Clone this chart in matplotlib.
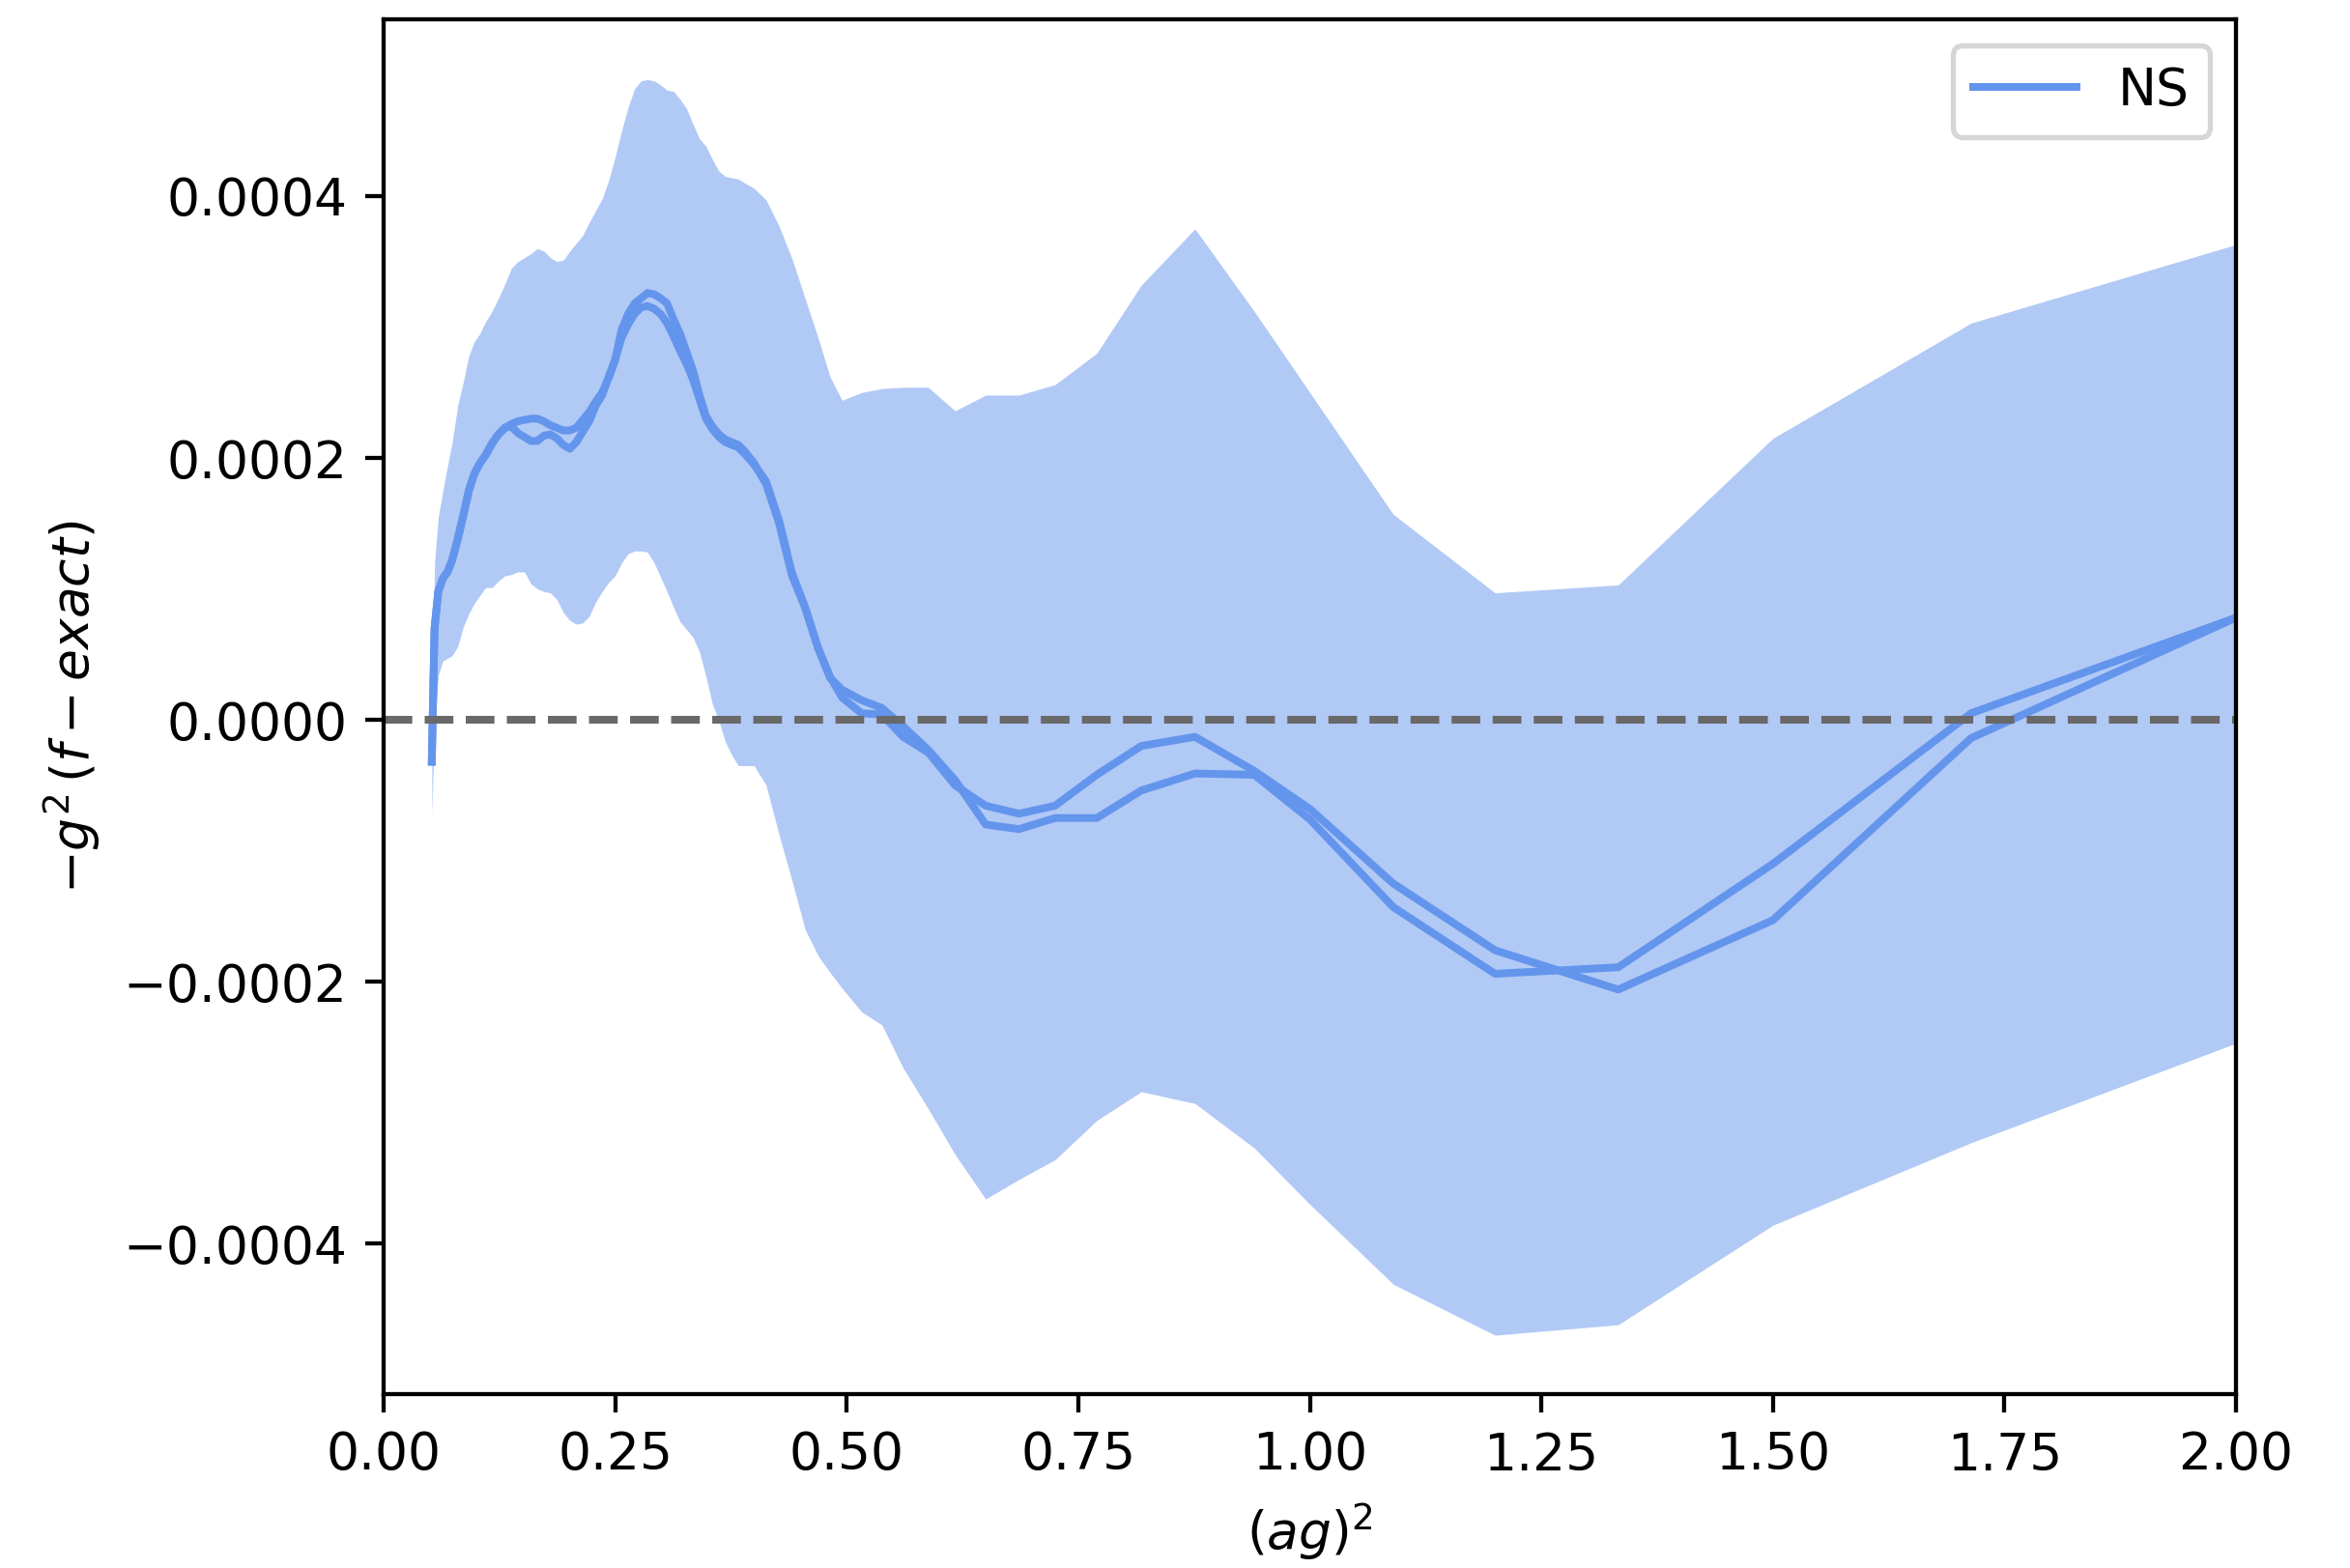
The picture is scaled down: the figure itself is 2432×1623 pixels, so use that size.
import matplotlib
matplotlib.use("Agg")
import matplotlib.pyplot as plt
import numpy as np

# (ag)^2 sample points
x = [0.052, 0.055, 0.059, 0.064, 0.069, 0.074, 0.080, 0.086, 0.092, 0.098,
     0.104, 0.110, 0.117, 0.124, 0.131, 0.138, 0.145, 0.152, 0.159, 0.166,
     0.173, 0.180, 0.187, 0.194, 0.201, 0.208, 0.215, 0.222, 0.229, 0.236,
     0.243, 0.250, 0.257, 0.264, 0.271, 0.278, 0.285, 0.292, 0.299, 0.306,
     0.313, 0.320, 0.327, 0.334, 0.341, 0.348, 0.355, 0.362, 0.369, 0.376,
     0.383, 0.390, 0.400, 0.413, 0.427, 0.441, 0.455, 0.469, 0.482, 0.495,
     0.516, 0.538, 0.561, 0.588, 0.617, 0.650, 0.686, 0.725, 0.770, 0.818,
     0.876, 0.940, 1.000, 1.090, 1.200, 1.333, 1.500, 1.714, 2.000]

# values in units of 1e-4
ns_run1 = [-0.32, 0.70, 0.98, 1.08, 1.13, 1.22, 1.38, 1.56, 1.75, 1.88,
           1.96, 2.02, 2.11, 2.18, 2.23, 2.26, 2.28, 2.29, 2.30, 2.30,
           2.28, 2.25, 2.23, 2.21, 2.21, 2.23, 2.29, 2.35, 2.43, 2.50,
           2.61, 2.75, 2.98, 3.10, 3.18, 3.22, 3.26, 3.25, 3.22, 3.18,
           3.06, 2.95, 2.81, 2.67, 2.48, 2.32, 2.24, 2.18, 2.14, 2.12,
           2.10, 2.05, 1.96, 1.80, 1.50, 1.10, 0.86, 0.55, 0.32, 0.23,
           0.15, 0.09, -0.05, -0.23, -0.46, -0.80, -0.835, -0.75, -0.75, -0.54,
           -0.41, -0.42, -0.76, -1.43, -1.94, -1.89, -1.10, 0.05, 0.78]

ns_run2 = [-0.32, 0.70, 0.98, 1.08, 1.13, 1.22, 1.38, 1.56, 1.75, 1.88,
           1.96, 2.02, 2.11, 2.18, 2.23, 2.24, 2.19, 2.16, 2.13, 2.13,
           2.17, 2.18, 2.15, 2.10, 2.07, 2.12, 2.20, 2.28, 2.40, 2.48,
           2.62, 2.75, 2.92, 3.02, 3.10, 3.15, 3.16, 3.14, 3.10, 3.03,
           2.93, 2.82, 2.72, 2.60, 2.45, 2.30, 2.22, 2.16, 2.12, 2.10,
           2.08, 2.03, 1.95, 1.82, 1.52, 1.12, 0.86, 0.55, 0.33, 0.17,
           0.05, 0.04, -0.13, -0.25, -0.50, -0.656, -0.717, -0.656, -0.42, -0.20,
           -0.13, -0.39, -0.68, -1.25, -1.76, -2.06, -1.53, -0.14, 0.78]

band_low = [-0.72, -0.05, 0.34, 0.45, 0.47, 0.49, 0.56, 0.71, 0.81, 0.89,
            0.95, 1.01, 1.01, 1.06, 1.10, 1.11, 1.13, 1.13, 1.04, 1.00,
            0.98, 0.97, 0.92, 0.82, 0.76, 0.73, 0.74, 0.79, 0.90, 0.98,
            1.05, 1.10, 1.20, 1.27, 1.29, 1.29, 1.28, 1.20, 1.09, 0.98,
            0.86, 0.75, 0.69, 0.63, 0.52, 0.33, 0.12, -0.01, -0.17, -0.27,
            -0.35, -0.35, -0.35, -0.50, -0.88, -1.23, -1.60, -1.80, -1.93, -2.05,
            -2.23, -2.33, -2.66, -2.97, -3.32, -3.66, -3.51, -3.36, -3.06, -2.84,
            -2.93, -3.27, -3.70, -4.31, -4.70, -4.62, -3.86, -3.23, -2.47]

band_high = [0.10, 1.20, 1.55, 1.75, 1.94, 2.12, 2.40, 2.58, 2.78, 2.89,
             2.95, 3.04, 3.12, 3.22, 3.33, 3.45, 3.50, 3.53, 3.56, 3.60,
             3.58, 3.53, 3.50, 3.51, 3.58, 3.64, 3.70, 3.80, 3.89, 3.98,
             4.12, 4.30, 4.50, 4.68, 4.82, 4.88, 4.89, 4.88, 4.85, 4.81,
             4.80, 4.74, 4.67, 4.55, 4.44, 4.38, 4.28, 4.19, 4.15, 4.14,
             4.13, 4.10, 4.06, 3.97, 3.77, 3.52, 3.22, 2.92, 2.62, 2.44,
             2.50, 2.53, 2.54, 2.54, 2.36, 2.48, 2.48, 2.56, 2.80, 3.32,
             3.75, 3.12, 2.50, 1.57, 0.97, 1.03, 2.15, 3.03, 3.63]

scale = 1e-4
xs = np.array(x)
r1 = np.array(ns_run1) * scale
r2 = np.array(ns_run2) * scale
lo = np.array(band_low) * scale
hi = np.array(band_high) * scale

color = "cornflowerblue"

fig = plt.figure(figsize=(2432 / 385, 1623 / 385), dpi=385)
ax = fig.add_axes([397 / 2432, 1 - 1443 / 1623, (2314 - 397) / 2432, (1443 - 20) / 1623])

ax.fill_between(xs, lo, hi, color=color, alpha=0.5, linewidth=0)
ax.plot(xs, r1, color=color, lw=1.5, label="NS")
ax.plot(xs, r2, color=color, lw=1.5)
ax.axhline(0, color="dimgray", ls="--", lw=1.5)

ax.set_xlim(0, 2)
ax.set_ylim(-5.15e-4, 5.35e-4)
ax.set_xticks([0.0, 0.25, 0.5, 0.75, 1.0, 1.25, 1.5, 1.75, 2.0])
ax.set_yticks([-4e-4, -2e-4, 0, 2e-4, 4e-4])
ax.set_yticklabels(["\u22120.0004", "\u22120.0002", "0.0000", "0.0002", "0.0004"])
ax.set_xlabel(r"$(ag)^2$")
ax.set_ylabel(r"$-g^2\,(f-exact)$")
ax.legend(loc="upper right")

fig.savefig("out.png", dpi=385)
